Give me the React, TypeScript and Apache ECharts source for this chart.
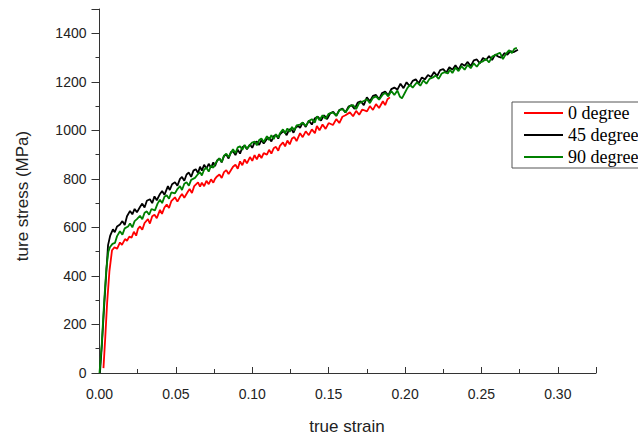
import React, { useEffect, useRef } from "react";
import * as echarts from "echarts";

const seriesNames = ["0 degree", "45 degree", "90 degree"];
const seriesColors = ["#ff0000", "#000000", "#008000"];

const xTickLabels = ["0.00", "0.05", "0.10", "0.15", "0.20", "0.25", "0.30"];
const yTickLabels = ["0", "200", "400", "600", "800", "1000", "1200", "1400"];

// [true strain, true stress (MPa)]
const red0: number[][] = [
  [0.0026, 20], [0.0038, 150], [0.005, 290], [0.0065, 420], [0.0082, 506], [0.0098, 518], [0.0115, 512],
  [0.0134, 538], [0.0147, 528], [0.0167, 552], [0.018, 545], [0.0195, 562], [0.021, 558], [0.0225, 582],
  [0.024, 566], [0.0252, 594], [0.0265, 604], [0.028, 590], [0.0295, 618], [0.0317, 634], [0.033, 616],
  [0.0345, 646], [0.036, 652], [0.0375, 638], [0.0396, 672], [0.0409, 656], [0.0425, 682], [0.044, 694],
  [0.0455, 680], [0.047, 708], [0.0494, 724], [0.051, 706], [0.0527, 726], [0.054, 738], [0.0555, 722],
  [0.0579, 748], [0.059, 758], [0.0605, 742], [0.062, 770], [0.0645, 786], [0.0658, 768], [0.067, 784],
  [0.0685, 770], [0.07, 792], [0.0715, 778], [0.073, 798], [0.0745, 784], [0.0756, 800], [0.0769, 810],
  [0.0785, 818], [0.08, 804], [0.0815, 828], [0.083, 836], [0.0845, 820], [0.0874, 850], [0.089, 858],
  [0.0905, 842], [0.092, 872], [0.0935, 856], [0.095, 880], [0.0965, 864], [0.0985, 890], [0.1, 874],
  [0.1015, 898], [0.103, 880], [0.1045, 902], [0.106, 886], [0.1075, 906], [0.1096, 900], [0.111, 920],
  [0.1125, 904], [0.114, 926], [0.1155, 932], [0.117, 916], [0.1181, 936], [0.1201, 950], [0.1215, 934],
  [0.123, 958], [0.1245, 942], [0.126, 966], [0.1275, 972], [0.129, 956], [0.1313, 988], [0.133, 972],
  [0.135, 996], [0.137, 980], [0.139, 1004], [0.141, 988], [0.1423, 1018], [0.144, 1000], [0.146, 1024],
  [0.148, 1006], [0.15, 1030], [0.1528, 1022], [0.155, 1046], [0.157, 1030], [0.159, 1056], [0.161, 1062],
  [0.1639, 1074], [0.166, 1058], [0.168, 1080], [0.17, 1064], [0.172, 1086], [0.1751, 1078], [0.177, 1100],
  [0.179, 1084], [0.181, 1108], [0.183, 1092], [0.1855, 1120], [0.187, 1104], [0.1885, 1128], [0.1901, 1136],
];

const black45: number[][] = [
  [0.0003, 0], [0.0015, 110], [0.003, 270], [0.0045, 420], [0.0056, 527], [0.007, 566], [0.0088, 592],
  [0.01, 580], [0.0115, 604], [0.0134, 612], [0.015, 626], [0.0165, 610], [0.018, 646], [0.02, 668],
  [0.0215, 654], [0.023, 676], [0.0245, 662], [0.0265, 684], [0.028, 698], [0.0295, 682], [0.031, 710],
  [0.033, 716], [0.0345, 700], [0.036, 728], [0.0375, 712], [0.0396, 738], [0.041, 750], [0.0425, 734],
  [0.0448, 770], [0.046, 754], [0.0475, 778], [0.0494, 786], [0.051, 772], [0.0527, 800], [0.054, 808],
  [0.0555, 792], [0.057, 818], [0.0585, 826], [0.06, 808], [0.0615, 834], [0.063, 840], [0.0645, 824],
  [0.0658, 850], [0.067, 834], [0.0685, 858], [0.07, 842], [0.0715, 862], [0.073, 846], [0.0745, 868],
  [0.0756, 852], [0.077, 876], [0.0785, 884], [0.08, 868], [0.0815, 894], [0.083, 900], [0.0845, 884],
  [0.086, 910], [0.0874, 914], [0.089, 898], [0.0905, 920], [0.092, 904], [0.0935, 930], [0.095, 936],
  [0.0965, 922], [0.0985, 942], [0.1, 928], [0.1015, 950], [0.103, 954], [0.1045, 940], [0.106, 960],
  [0.1075, 946], [0.1096, 964], [0.111, 970], [0.1125, 954], [0.114, 976], [0.1155, 982], [0.117, 966],
  [0.1181, 984], [0.1195, 992], [0.121, 996], [0.1225, 980], [0.124, 1002], [0.1255, 1006], [0.127, 990],
  [0.1285, 1012], [0.13, 1018], [0.1313, 1010], [0.133, 1032], [0.135, 1014], [0.137, 1040], [0.139, 1024],
  [0.141, 1050], [0.143, 1056], [0.145, 1040], [0.147, 1062], [0.149, 1046], [0.151, 1070], [0.153, 1076],
  [0.155, 1060], [0.157, 1084], [0.159, 1090], [0.161, 1074], [0.163, 1098], [0.165, 1104], [0.167, 1088],
  [0.169, 1114], [0.171, 1120], [0.173, 1104], [0.175, 1136], [0.177, 1120], [0.179, 1142], [0.181, 1146],
  [0.183, 1128], [0.185, 1154], [0.187, 1160], [0.189, 1144], [0.191, 1170], [0.193, 1176], [0.195, 1168],
  [0.197, 1192], [0.199, 1174], [0.201, 1198], [0.203, 1182], [0.205, 1204], [0.207, 1210], [0.209, 1194],
  [0.211, 1218], [0.213, 1210], [0.215, 1228], [0.217, 1220], [0.219, 1240], [0.221, 1224], [0.223, 1248],
  [0.225, 1252], [0.227, 1238], [0.229, 1260], [0.231, 1250], [0.233, 1268], [0.235, 1250], [0.237, 1274],
  [0.239, 1266], [0.241, 1282], [0.243, 1264], [0.245, 1288], [0.247, 1292], [0.249, 1276], [0.251, 1298],
  [0.253, 1290], [0.255, 1306], [0.257, 1290], [0.259, 1312], [0.261, 1304], [0.263, 1300], [0.265, 1318],
  [0.267, 1312], [0.269, 1326], [0.271, 1322], [0.2739, 1332],
];

const green90: number[][] = [
  [0, 0], [0.0015, 120], [0.003, 290], [0.0045, 430], [0.0058, 500], [0.0069, 519], [0.0085, 532],
  [0.0101, 536], [0.0115, 564], [0.0134, 584], [0.015, 570], [0.0165, 596], [0.0187, 604], [0.02, 616],
  [0.0215, 600], [0.023, 626], [0.0245, 634], [0.0265, 648], [0.028, 634], [0.0295, 660], [0.031, 666],
  [0.0325, 652], [0.034, 676], [0.0363, 670], [0.038, 698], [0.0396, 714], [0.041, 700], [0.0425, 726],
  [0.044, 732], [0.0455, 718], [0.047, 744], [0.0494, 740], [0.051, 758], [0.0527, 770], [0.054, 754],
  [0.0555, 780], [0.057, 786], [0.0585, 772], [0.06, 796], [0.0625, 804], [0.064, 816], [0.0658, 828],
  [0.067, 814], [0.0685, 838], [0.07, 846], [0.0715, 830], [0.073, 854], [0.0745, 846], [0.0756, 860],
  [0.077, 874], [0.0785, 884], [0.08, 870], [0.0815, 896], [0.083, 904], [0.0845, 890], [0.0874, 922],
  [0.089, 906], [0.0905, 930], [0.092, 934], [0.0935, 920], [0.095, 940], [0.0965, 924], [0.0985, 940],
  [0.1, 950], [0.1015, 954], [0.103, 938], [0.1045, 960], [0.106, 966], [0.1075, 952], [0.1096, 976],
  [0.111, 960], [0.1125, 980], [0.114, 964], [0.1155, 984], [0.117, 970], [0.1181, 988], [0.1201, 1004],
  [0.1215, 988], [0.123, 1008], [0.1245, 994], [0.126, 1014], [0.1275, 1000], [0.129, 1020], [0.1313, 1024],
  [0.133, 1032], [0.135, 1018], [0.137, 1038], [0.139, 1046], [0.141, 1032], [0.1423, 1058], [0.144, 1042],
  [0.146, 1062], [0.148, 1048], [0.15, 1068], [0.1528, 1074], [0.155, 1060], [0.157, 1082], [0.159, 1088],
  [0.161, 1074], [0.1639, 1100], [0.166, 1104], [0.168, 1088], [0.17, 1112], [0.172, 1118], [0.1751, 1128],
  [0.177, 1112], [0.179, 1134], [0.181, 1140], [0.183, 1126], [0.1855, 1148], [0.187, 1154], [0.189, 1140],
  [0.191, 1162], [0.193, 1146], [0.195, 1164], [0.1967, 1138], [0.198, 1132], [0.2, 1156], [0.2015, 1174],
  [0.2032, 1188], [0.205, 1176], [0.2078, 1198], [0.21, 1184], [0.212, 1206], [0.214, 1192], [0.216, 1212],
  [0.2183, 1218], [0.22, 1226], [0.222, 1212], [0.224, 1234], [0.226, 1240], [0.228, 1234], [0.2294, 1250],
  [0.231, 1236], [0.233, 1258], [0.235, 1244], [0.237, 1264], [0.239, 1250], [0.241, 1270], [0.243, 1256],
  [0.245, 1276], [0.247, 1262], [0.249, 1280], [0.251, 1284], [0.253, 1294], [0.255, 1280], [0.257, 1304],
  [0.259, 1310], [0.2621, 1320], [0.2641, 1294], [0.266, 1314], [0.268, 1330], [0.27, 1318], [0.2715, 1336],
  [0.2732, 1340],
];

const seriesData = [red0, black45, green90];

const axisColor = "#333";
const labelFont = "Liberation Sans";

export default function App() {
  const ref = useRef<HTMLDivElement>(null);

  useEffect(() => {
    if (!ref.current) return;
    const chart = echarts.init(ref.current, null, { renderer: "svg" });

    const xLabelFmt = (v: number) => {
      const s = v.toFixed(2);
      return xTickLabels.includes(s) && Math.abs(v - parseFloat(s)) < 1e-6 ? s : "";
    };
    const yLabelFmt = (v: number) => {
      const s = String(Math.round(v));
      return yTickLabels.includes(s) ? s : "";
    };

    chart.setOption({
      animation: false,
      backgroundColor: "#ffffff",
      grid: { left: 99.5, right: 42, top: 9, bottom: 61, containLabel: false },
      xAxis: [
        {
          type: "value",
          min: 0,
          max: 0.325,
          interval: 0.05,
          position: "bottom",
          axisLine: { show: true, lineStyle: { color: axisColor, width: 1 } },
          axisTick: { show: true, inside: true, length: 6, lineStyle: { color: axisColor } },
          axisLabel: { formatter: xLabelFmt, fontFamily: labelFont, fontSize: 14, color: "#222", margin: 14 },
          splitLine: { show: false },
        },
        {
          type: "value",
          min: 0,
          max: 0.325,
          interval: 0.025,
          position: "bottom",
          offset: 0,
          axisLine: { show: false },
          axisTick: { show: true, inside: true, length: 4, lineStyle: { color: axisColor } },
          axisLabel: { show: false },
          splitLine: { show: false },
        },
      ],
      yAxis: [
        {
          type: "value",
          min: 0,
          max: 1500,
          interval: 200,
          position: "left",
          axisLine: { show: true, lineStyle: { color: axisColor, width: 1 } },
          axisTick: { show: true, inside: false, length: 8, lineStyle: { color: axisColor } },
          axisLabel: { formatter: yLabelFmt, fontFamily: labelFont, fontSize: 14, color: "#222", margin: 13 },
          splitLine: { show: false },
        },
        {
          type: "value",
          min: 0,
          max: 1500,
          interval: 100,
          position: "left",
          offset: 0,
          axisLine: { show: false },
          axisTick: { show: true, inside: false, length: 4, lineStyle: { color: axisColor } },
          axisLabel: { show: false },
          splitLine: { show: false },
        },
      ],
      legend: {
        orient: "vertical",
        left: 512,
        top: 102,
        padding: [2, 8, 2, 12],
        itemGap: 4,
        itemWidth: 39,
        itemHeight: 2,
        icon: "rect",
        borderColor: "#555",
        borderWidth: 1,
        backgroundColor: "#ffffff",
        textStyle: { fontFamily: "Liberation Serif", fontSize: 18, color: "#000", lineHeight: 18 },
        data: seriesNames,
      },
      graphic: [
        {
          type: "text",
          x: 22,
          y: 196,
          rotation: Math.PI / 2,
          style: {
            text: "ture stress (MPa)",
            fontFamily: labelFont,
            fontSize: 17,
            fill: "#222",
            textAlign: "center",
            textVerticalAlign: "middle",
          },
        },
        {
          type: "text",
          x: 347,
          y: 426,
          style: {
            text: "true strain",
            fontFamily: labelFont,
            fontSize: 17,
            fill: "#222",
            textAlign: "center",
            textVerticalAlign: "middle",
          },
        },
      ],
      series: seriesNames.map((name, i) => ({
        name,
        type: "line",
        xAxisIndex: 0,
        yAxisIndex: 0,
        data: seriesData[i],
        symbol: "none",
        color: seriesColors[i],
        lineStyle: { color: seriesColors[i], width: 1.8 },
        z: 2 + i,
      })),
    });

    return () => chart.dispose();
  }, []);

  return (
    <div
      ref={ref}
      style={{ position: "fixed", left: 0, top: 0, width: 638, height: 434 }}
    />
  );
}
